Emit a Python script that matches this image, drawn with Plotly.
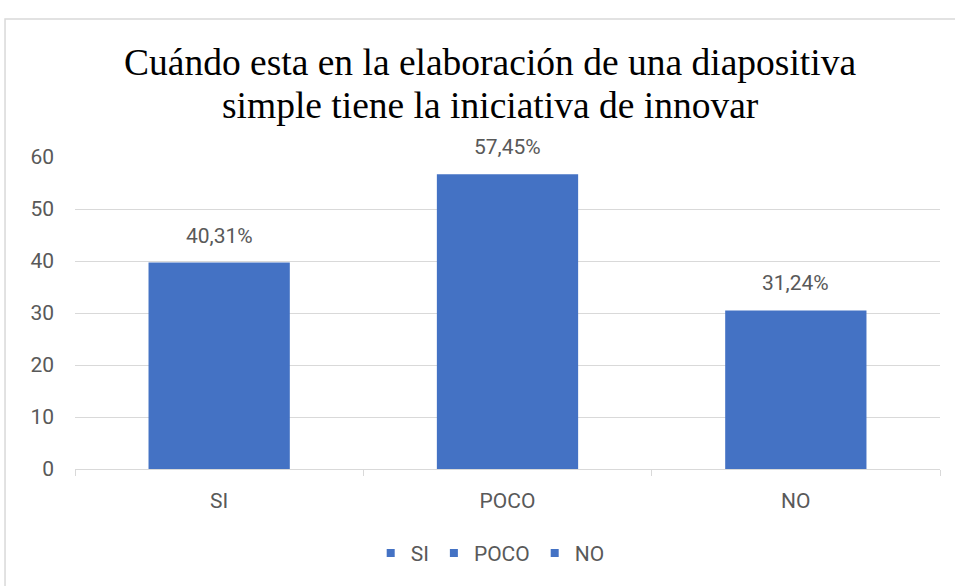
import plotly.graph_objects as go

# data
categories = ["SI", "POCO", "NO"]
bar_values = [39.7, 56.7, 30.5]
bar_labels = ["40,31%", "57,45%", "31,24%"]
title_lines = ["Cuándo esta en la elaboración de una diapositiva",
               "simple tiene la iniciativa de innovar"]

BLUE = "#4472C4"
GRID = "#D9D9D9"
TEXT = "#595959"
FONT = "Roboto, Open Sans, sans-serif"
SERIF = "Liberation Serif, Times New Roman, serif"

fig = go.Figure()
for cat, val in zip(categories, bar_values):
    fig.add_trace(go.Bar(
        x=[cat], y=[val], name=cat, showlegend=False,
        marker=dict(color=BLUE, line=dict(width=0)),
        width=0.49,
    ))

# legend entries with small square keys (office style)
for cat in categories:
    fig.add_trace(go.Scatter(
        x=[None], y=[None], mode="markers", name=cat,
        marker=dict(symbol="square", size=8, color=BLUE),
    ))

# value labels above each bar
for cat, val, lab in zip(categories, bar_values, bar_labels):
    fig.add_annotation(
        x=cat, y=val, text=lab, showarrow=False,
        yanchor="middle", yshift=27,
        font=dict(size=21, color=TEXT, family=FONT),
    )

# two-line title, tighter line spacing than plotly's default
for line, ypos in zip(title_lines, [1.303, 1.166]):
    fig.add_annotation(
        x=0.48, y=ypos, xref="paper", yref="paper", text=line,
        showarrow=False, xanchor="center", yanchor="middle",
        font=dict(family=SERIF, size=37.5, color="black"),
    )

fig.update_layout(
    width=955, height=586,
    margin=dict(l=75, r=15, t=157, b=115),
    paper_bgcolor="white", plot_bgcolor="white",
    barmode="overlay",
    font=dict(family=FONT, size=21, color=TEXT),
    legend=dict(
        orientation="h", x=0.48, xanchor="center", y=-0.27, yanchor="middle",
        font=dict(size=21, color=TEXT), traceorder="normal",
    ),
    xaxis=dict(
        showline=True, linecolor=GRID, linewidth=1,
        ticks="outside", tickson="boundaries", ticklen=6, tickcolor=GRID,
        ticklabelstandoff=13, showgrid=False,
        tickfont=dict(size=21, color=TEXT),
    ),
    yaxis=dict(
        range=[0, 60], dtick=10, showgrid=True, gridcolor=GRID, gridwidth=1,
        zeroline=False, showline=False, ticklabelstandoff=20,
        tickfont=dict(size=21, color=TEXT),
    ),
)

# light chart frame like the office chart border
fig.add_shape(
    type="rect", xref="paper", yref="paper",
    x0=-0.0809, x1=1.06, y0=-0.5, y1=1.4427,
    line=dict(color=GRID, width=1.5), fillcolor="rgba(0,0,0,0)", layer="below",
)

fig.write_html("out.html", config={"displayModeBar": False},
               post_script="document.body.style.margin='0';")
